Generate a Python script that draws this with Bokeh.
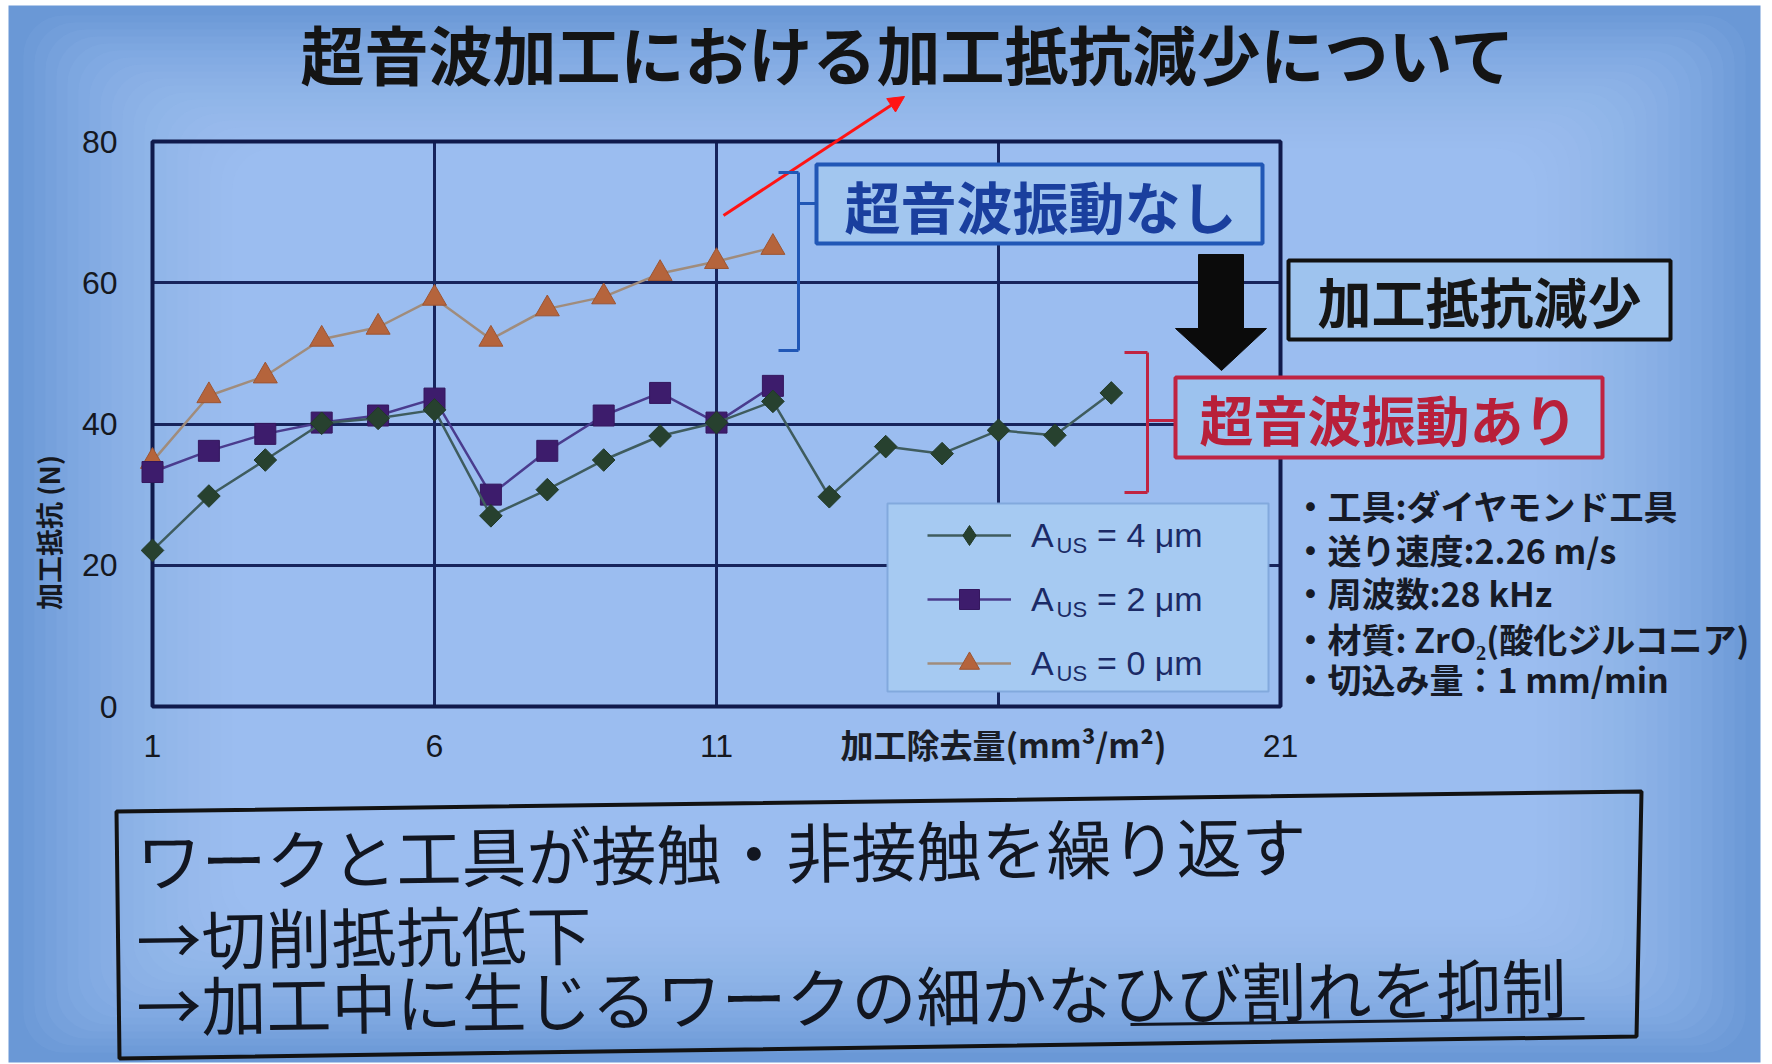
import numpy as np
from bokeh.plotting import figure
from bokeh.models import (ColumnDataSource, FixedTicker, Label, BoxAnnotation, Range1d,
                          PolyAnnotation, Arrow, NormalHead, Legend, LegendItem)
from bokeh.embed import file_html
from bokeh.resources import INLINE

# ---------------- data ----------------
removal_4um = [1, 2, 3, 4, 5, 6, 7, 8, 9, 10, 11, 12, 13, 14, 15, 16, 17, 18]
force_4um = [22.1, 29.8, 34.9, 40.1, 40.8, 42.0, 27.0, 30.7, 34.9, 38.3, 40.2, 43.2,
             29.7, 36.8, 35.8, 39.1, 38.4, 44.4]
removal_2um = [1, 2, 3, 4, 5, 6, 7, 8, 9, 10, 11, 12]
force_2um = [33.2, 36.2, 38.6, 40.2, 41.2, 43.6, 30.0, 36.2, 41.2, 44.4, 40.2, 45.4]
removal_0um = [1, 2, 3, 4, 5, 6, 7, 8, 9, 10, 11, 12]
force_0um = [34.7, 44.0, 46.8, 52.0, 53.7, 57.8, 52.0, 56.3, 58.0, 61.3, 63.0, 65.0]

x_ticks = [1, 6, 11, 16, 21]
x_tick_text = {16: ""}
y_ticks = [0, 20, 40, 60, 80]
legend_text = ["A\u2003 = 4 μm", "A\u2003 = 2 μm", "A\u2003 = 0 μm"]

title_text = "超音波加工における加工抵抗減少について"
y_title = "加工抵抗 (N)"
x_title = "加工除去量(mm³/m²)"
note_without = "超音波振動なし"
note_with = "超音波振動あり"
note_result = "加工抵抗減少"
conditions = ["・工具:ダイヤモンド工具", "・送り速度:2.26 m/s", "・周波数:28 kHz",
              "・材質: ZrO₂(酸化ジルコニア)", "・切込み量：1 mm/min"]
summary = ["ワークと工具が接触・非接触を繰り返す", "→切削抵抗低下",
           "→加工中に生じるワークの細かなひび割れを抑制"]

# ---------------- layout (canvas pixels) ----------------
W, H = 1772, 1064
FL, FR, FT, FB = 152, 1280, 141, 706   # pixel of x=1, x=21, y=80, y=0
SX = 20.0 / (FR - FL)
SY = 80.0 / (FB - FT)


def dx(px):
    return 1 + (px - FL) * SX


def dy(py):
    return (FB - py) * SY


JP = "Noto Sans CJK JP"
LAT = "Liberation Sans"
NAVY = "#17245c"
INK = "#15181f"

# the plotting frame spans the whole slide; the chart axes are pinned inside it
p = figure(width=W, height=H, x_range=Range1d(dx(0), dx(W)), y_range=Range1d(dy(H), dy(0)),
           output_backend="svg", toolbar_location=None, min_border=0)
p.title.text = ""
p.title.visible = False
p.border_fill_color = "white"
p.background_fill_color = "white"
p.outline_line_color = None

# ---------------- slide background with soft vignette ----------------
has_radius = "border_radius" in BoxAnnotation.properties()
p.add_layout(BoxAnnotation(left=dx(8), right=dx(1760), top=dy(5), bottom=dy(1062),
                           fill_color="#6a98d6", fill_alpha=1.0, line_color=None,
                           level="image"))
for k in range(1, 21):
    ix, iy = 4 + 11 * k, 3 + 7 * k
    kw = dict(left=dx(8 + ix), right=dx(1760 - ix), top=dy(5 + iy), bottom=dy(1062 - iy),
              fill_color="#b4d4f8", fill_alpha=0.065, line_color=None, level="image")
    if has_radius:
        kw["border_radius"] = 40
    p.add_layout(BoxAnnotation(**kw))

# ---------------- axes and grid ----------------
p.xaxis.fixed_location = 0
p.yaxis.fixed_location = 1
p.xaxis.ticker = FixedTicker(ticks=x_ticks)
p.xaxis.major_label_overrides = x_tick_text
p.yaxis.ticker = FixedTicker(ticks=y_ticks)
p.xgrid.ticker = FixedTicker(ticks=x_ticks)
p.ygrid.ticker = FixedTicker(ticks=y_ticks)
for ax in (p.xaxis[0], p.yaxis[0]):
    ax.axis_line_color = None
    ax.major_tick_line_color = None
    ax.minor_tick_line_color = None
    ax.major_label_text_font = LAT
    ax.major_label_text_font_size = "32px"
    ax.major_label_text_color = INK
p.xaxis.major_label_standoff = 22
p.yaxis.major_label_standoff = 29
p.yaxis.axis_label = y_title
p.yaxis.axis_label_text_font = JP
p.yaxis.axis_label_text_font_size = "27px"
p.yaxis.axis_label_text_font_style = "bold"
p.yaxis.axis_label_text_color = INK
p.yaxis.axis_label_standoff = 11

for g in (p.xgrid[0], p.ygrid[0]):
    g.grid_line_color = NAVY
    g.grid_line_width = 3
    g.minor_grid_line_color = None
if "cross_bounds" in p.ygrid[0].properties():
    p.ygrid[0].cross_bounds = (1, 21)
    p.xgrid[0].cross_bounds = (0, 80)

# chart border
p.add_layout(BoxAnnotation(left=1, right=21, bottom=0, top=80, fill_color=None,
                           line_color="#101a4c", line_alpha=1.0, line_width=4,
                           level="underlay"))

# legend panel
p.add_layout(BoxAnnotation(left=dx(887), right=dx(1268), top=dy(503), bottom=dy(691),
                           fill_color="#a6caf2", fill_alpha=1.0, line_color="#7ea6da",
                           line_alpha=0.9, line_width=2, level="underlay"))

# ---------------- series ----------------
s0 = ColumnDataSource(dict(x=removal_0um, y=force_0um))
s2 = ColumnDataSource(dict(x=removal_2um, y=force_2um))
s4 = ColumnDataSource(dict(x=removal_4um, y=force_4um))

l0 = p.line("x", "y", source=s0, line_color="#a08c7c", line_width=2.5)
m0 = p.scatter("x", "y", source=s0, marker="triangle", size=24,
               fill_color="#b5643c", line_color="#9c5533", line_width=1)
l2 = p.line("x", "y", source=s2, line_color="#4a3c8e", line_width=2.5)
m2 = p.scatter("x", "y", source=s2, marker="square", size=21,
               fill_color="#3d1c6c", line_color="#34175e", line_width=1)
l4 = p.line("x", "y", source=s4, line_color="#3f5c5e", line_width=2.5)
# legend key for the 4 μm series: legend keys are drawn unrotated, so a diamond
# key is used there (zero size on the chart itself)
k4 = p.scatter("x", "y", source=s4, marker="diamond", size=0,
               fill_color="#27412f", line_color="#223a2a", line_width=1)
m4 = p.scatter("x", "y", source=s4, marker="square", angle=np.pi / 4, size=16,
               fill_color="#27412f", line_color="#223a2a", line_width=1)

legend = Legend(items=[LegendItem(label=legend_text[0], renderers=[l4, k4]),
                       LegendItem(label=legend_text[1], renderers=[l2, m2]),
                       LegendItem(label=legend_text[2], renderers=[l0, m0])],
                location=(927, H - 688), orientation="vertical",
                padding=0, spacing=14, glyph_width=84, glyph_height=50,
                label_height=50, label_standoff=20,
                label_text_font=LAT, label_text_font_size="34px",
                label_text_color="#1b2a66",
                background_fill_alpha=0, border_line_alpha=0)
p.add_layout(legend)
for cy in (535, 599, 663):
    p.add_layout(Label(x=dx(1056), y=dy(cy + 10), text="US", text_font=LAT,
                       text_font_size="22px", text_color="#1b2a66",
                       text_align="left", text_baseline="middle"))


# ---------------- helpers for slide annotations ----------------
def label(px, py, text, size, color="#141414", bold=False, font=JP,
          align="center", angle=0.0):
    p.add_layout(Label(x=dx(px), y=dy(py), text=text, text_font=font,
                       text_font_size=f"{size}px",
                       text_font_style="bold" if bold else "normal",
                       text_color=color, text_align=align, text_baseline="middle",
                       angle=angle))


def seg(x0, y0, x1, y1, color, width):
    p.add_layout(Arrow(end=None, x_start=dx(x0), y_start=dy(y0), x_end=dx(x1),
                       y_end=dy(y1), line_color=color, line_width=width))


def frame_box(l, t, r, b, line, fill):
    p.add_layout(BoxAnnotation(left=dx(l), right=dx(r), top=dy(t), bottom=dy(b),
                               fill_color=fill, fill_alpha=1.0, line_color=line,
                               line_alpha=1.0, line_width=4, level="annotation"))


# title
label(908, 51, title_text, 64, bold=True)

# x axis title sits over the unlabelled tick
label(1003, 743, x_title, 33, bold=True, color="#1a1d26")

# red pointer arrow
p.add_layout(Arrow(end=NormalHead(size=16, fill_color="#ff1414", line_color="#ff1414"),
                   x_start=dx(723), y_start=dy(215), x_end=dx(904), y_end=dy(96),
                   line_color="#ff1414", line_width=3))

# "without vibration" bracket and box
BLUE = "#2157b6"
seg(778, 172, 798, 172, BLUE, 3)
seg(798, 172, 798, 350, BLUE, 3)
seg(778, 350, 798, 350, BLUE, 3)
seg(798, 203, 816, 203, BLUE, 3)
frame_box(816, 164, 1262, 243, BLUE, "#a2c6ef")
label(1040, 204, note_without, 56, color="#1a3f9e", bold=True)

# thick down arrow
p.add_layout(PolyAnnotation(
    xs=[dx(1198), dx(1243), dx(1243), dx(1266), dx(1221), dx(1175), dx(1198)],
    ys=[dy(254), dy(254), dy(328), dy(328), dy(370), dy(328), dy(328)],
    fill_color="#0b0b0b", fill_alpha=1.0, line_color="#0b0b0b", line_alpha=1.0,
    line_width=1))

# result box
frame_box(1288, 260, 1670, 339, "#111111", "#9ec3ee")
label(1479, 300, note_result, 54, color="#161616", bold=True)

# "with vibration" bracket and box
RED = "#c02442"
seg(1124, 352, 1147, 352, RED, 3)
seg(1147, 352, 1147, 492, RED, 3)
seg(1124, 492, 1147, 492, RED, 3)
seg(1147, 420, 1175, 420, RED, 3)
frame_box(1175, 377, 1602, 457, RED, "#9cc2ee")
label(1388, 418, note_with, 54, color="#b8203a", bold=True)

# machining conditions
for txt, cy in zip(conditions, (505, 549, 592, 638, 678)):
    label(1293, cy, txt, 34, color="#161a26", bold=True, align="left")

# summary box (slightly skewed, as projected)
p.add_layout(PolyAnnotation(xs=[dx(116), dx(1641), dx(1636), dx(119)],
                            ys=[dy(811), dy(791), dy(1036), dy(1058)],
                            fill_color=None, fill_alpha=0, line_color="#121212",
                            line_alpha=1.0, line_width=4))
TILT = 0.013
for txt, cy in zip(summary, (858, 937, 1003)):
    label(136, cy, txt, 65, color="#121620", align="left", angle=TILT)
seg(1130, 1024, 1584, 1018, "#121620", 3)

open("out.html", "w").write(file_html(p, INLINE))
